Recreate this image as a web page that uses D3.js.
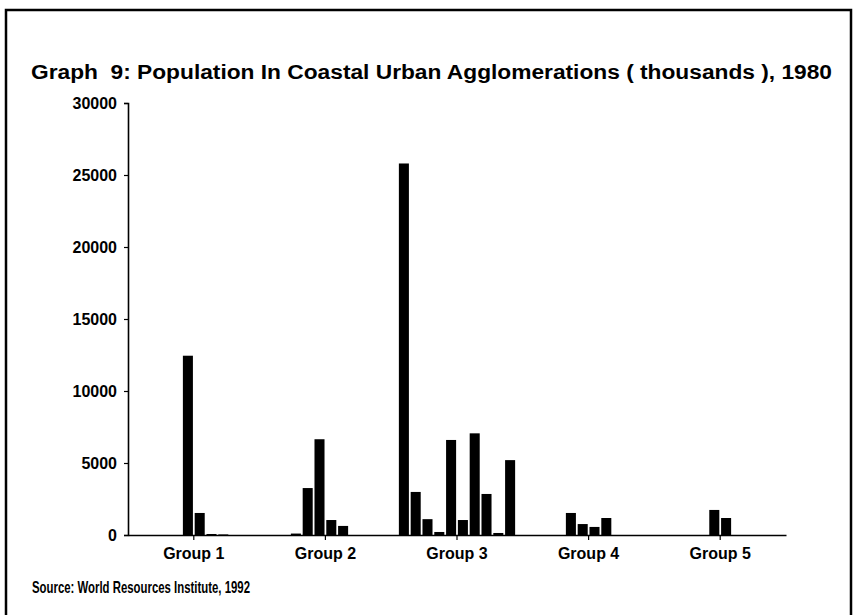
<!DOCTYPE html>
<html>
<head>
<meta charset="utf-8">
<script src="https://cdn.jsdelivr.net/npm/d3@7"></script>
<style>
  body { margin: 0; background: #fff; }
  svg { display: block; }
  text { font-family: "Liberation Sans", Arial, Helvetica, sans-serif; fill: #000; }
</style>
</head>
<body>
<div id="chart"></div>
<script>
// groups along the x axis
var groups = ["Group 1", "Group 2", "Group 3", "Group 4", "Group 5"];
// ten slots per group (one per agglomeration), values in thousands
var slots = [0, 1, 2, 3, 4, 5, 6, 7, 8, 9];
var group1 = [0, 0, 0, 0, 12450, 1530, 70, 40, 0, 0];
var group2 = [0, 0, 100, 3260, 6650, 1040, 630, 0, 0, 0];
var group3 = [25800, 2990, 1100, 210, 6600, 1040, 7060, 2850, 140, 5200];
var group4 = [0, 0, 0, 1530, 760, 560, 1180, 0, 0, 0];
var group5 = [0, 0, 0, 0, 1740, 1180, 0, 0, 0, 0];
var yTicks = [0, 5000, 10000, 15000, 20000, 25000, 30000];

var titleText = "Graph  9: Population In Coastal Urban Agglomerations ( thousands ), 1980";
var sourceText = "Source: World Resources Institute, 1992";

function init() {
    var W = 856, H = 615;
    var plot = { left: 128, right: 786, top: 103, bottom: 535 };

    var svg = d3.select("#chart").append("svg")
        .attr("width", W)
        .attr("height", H);

    // outer frame of the scanned page
    svg.append("rect")
        .attr("x", 6).attr("y", 10)
        .attr("width", 845).attr("height", 620)
        .attr("fill", "none")
        .attr("stroke", "#000")
        .attr("stroke-width", 2.5);

    var allValues = [group1, group2, group3, group4, group5];
    var data = groups.map(function(g, i) {
        return { group: g, values: allValues[i] };
    });

    var x0 = d3.scaleBand()
        .domain(groups)
        .range([plot.left, plot.right])
        .paddingInner(0)
        .paddingOuter(0);

    var x1 = d3.scaleBand()
        .domain(slots)
        .range([0, x0.bandwidth()])
        .paddingInner(0.15)
        .paddingOuter(0.65);

    var y = d3.scaleLinear()
        .domain([0, 30000])
        .range([plot.bottom, plot.top]);

    // bars
    var g = svg.selectAll("g.grp")
        .data(data)
        .enter().append("g")
        .attr("class", "grp")
        .attr("transform", function(d) { return "translate(" + x0(d.group) + ",0)"; });

    g.selectAll("rect")
        .data(function(d) { return d.values.map(function(v, i) { return { slot: i, v: v }; }); })
        .enter().append("rect")
        .filter(function(d) { return d.v > 0; })
        .attr("x", function(d) { return x1(d.slot); })
        .attr("width", x1.bandwidth())
        .attr("y", function(d) { return y(d.v); })
        .attr("height", function(d) { return y(0) - y(d.v); })
        .attr("fill", "#000");

    // y axis
    var yAxis = d3.axisLeft(y)
        .tickValues(yTicks)
        .tickSize(4)
        .tickPadding(7)
        .tickFormat(d3.format("d"));
    var ya = svg.append("g")
        .attr("transform", "translate(" + plot.left + ",0)")
        .call(yAxis);
    ya.select(".domain").attr("stroke-width", 1.6);
    ya.selectAll("line").attr("stroke-width", 1.2);
    ya.selectAll("text")
        .style("font-size", "16px")
        .style("font-weight", "bold")
        .attr("dy", "0.35em");

    // x axis
    var xAxis = d3.axisBottom(x0)
        .tickSize(5)
        .tickPadding(8)
        .tickSizeOuter(0);
    var xa = svg.append("g")
        .attr("transform", "translate(0," + plot.bottom + ")")
        .call(xAxis);
    xa.select(".domain").attr("stroke-width", 1.6);
    xa.selectAll("line").attr("stroke-width", 1.2);
    xa.selectAll("text")
        .style("font-size", "16px")
        .style("font-weight", "bold");

    // title
    svg.append("text")
        .attr("x", 31)
        .attr("y", 79)
        .attr("xml:space", "preserve")
        .style("white-space", "pre")
        .attr("textLength", 801)
        .attr("lengthAdjust", "spacingAndGlyphs")
        .style("font-size", "20px")
        .style("font-weight", "bold")
        .text(titleText);

    // source note
    svg.append("text")
        .attr("x", 32)
        .attr("y", 593)
        .attr("textLength", 218)
        .attr("lengthAdjust", "spacingAndGlyphs")
        .style("font-size", "16.5px")
        .style("font-weight", "bold")
        .text(sourceText);
}

window.addEventListener("load", init);
</script>
</body>
</html>
